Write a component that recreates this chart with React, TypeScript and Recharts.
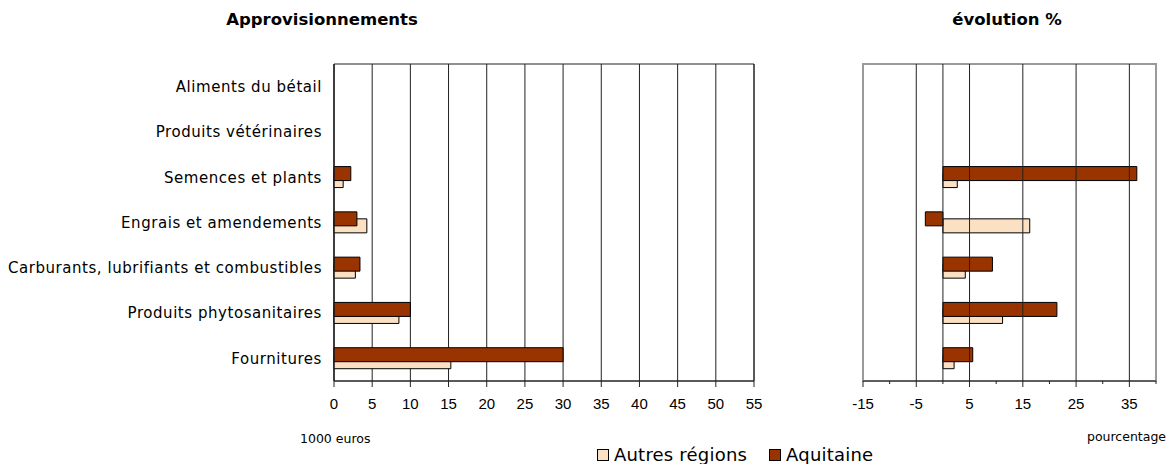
import React from 'react';
import { BarChart, Bar, XAxis, YAxis, CartesianGrid, ReferenceLine, ReferenceArea } from 'recharts';

const categories = [
  'Aliments du bétail',
  'Produits vétérinaires',
  'Semences et plants',
  'Engrais et amendements',
  'Carburants, lubrifiants et combustibles',
  'Produits phytosanitaires',
  'Fournitures',
];
const seriesNames = ['Autres régions', 'Aquitaine'];
const seriesColors = ['#FCE0C4', '#993300'];

const supplyAutres = [null, null, 1.2, 4.3, 2.8, 8.5, 15.3];
const supplyAquitaine = [null, null, 2.2, 3.0, 3.4, 10.0, 30.0];
const evolAutres = [null, null, 2.7, 16.3, 4.2, 11.2, 2.1];
const evolAquitaine = [null, null, 36.4, -3.3, 9.3, 21.4, 5.6];

const supplyTicks = [0, 5, 10, 15, 20, 25, 30, 35, 40, 45, 50, 55];
const evolTicks = [-15, -10, -5, 0, 5, 10, 15, 20, 25, 30, 35, 40];
const evolLabelled = [-15, -5, 5, 15, 25, 35];
const evolGrid = [-5, 0, 5, 15, 25, 35];

const supplyData = categories.map((c, i) => ({ cat: c, autres: supplyAutres[i], aquitaine: supplyAquitaine[i] }));
const evolData = categories.map((c, i) => ({ cat: c, autres: evolAutres[i], aquitaine: evolAquitaine[i] }));

const FONT = '"Liberation Sans", Arial, sans-serif';
const WIDE = '"DejaVu Sans", Verdana, sans-serif';
const GRID = '#222';

const EvolTick = (props: any) => {
  const { x, y, payload } = props;
  const v = payload.value;
  const major = evolLabelled.includes(v);
  const axisY = y - 6 - 11;
  return (
    <g>
      <line x1={x} x2={x} y1={axisY} y2={axisY + (major ? 6 : 3)} stroke={GRID} />
      {major ? (
        <text x={x} y={y} dy="0.71em" textAnchor="middle" fontSize={15} fontFamily={FONT} fill="#000">
          {v}
        </text>
      ) : null}
    </g>
  );
};

export default function App() {
  return (
    <div style={{ position: 'absolute', left: 0, top: 0, width: 1168, height: 464, background: '#fff', fontFamily: WIDE, color: '#000' }}>
      <div style={{ position: 'absolute', left: 0, top: 0 }}>
        <BarChart
          width={775}
          height={464}
          layout="vertical"
          data={supplyData}
          margin={{ top: 64, right: 21, bottom: 43, left: 0 }}
          barSize={14}
          barGap={-21}
          barCategoryGap={0}
        >
          <CartesianGrid vertical horizontal={false} stroke={GRID} strokeDasharray="" />
          <ReferenceArea x1={0} x2={55} fill="none" stroke={GRID} strokeOpacity={1} fillOpacity={0} />
          <XAxis
            type="number"
            domain={[0, 55]}
            ticks={supplyTicks}
            interval={0}
            height={40}
            tickSize={6}
            tickMargin={11}
            axisLine={{ stroke: GRID }}
            tickLine={{ stroke: GRID }}
            tick={{ fontSize: 15, fill: '#000', fontFamily: FONT }}
          />
          <YAxis
            type="category"
            dataKey="cat"
            width={334}
            tickLine={false}
            tickSize={6}
            tickMargin={6}
            axisLine={{ stroke: GRID }}
            tick={{ fontSize: 15, fill: '#000', fontFamily: WIDE, letterSpacing: 0.55 }}
          />
          <Bar dataKey="autres" name={seriesNames[0]} fill={seriesColors[0]} stroke="#000" strokeWidth={1} isAnimationActive={false} />
          <Bar dataKey="aquitaine" name={seriesNames[1]} fill={seriesColors[1]} stroke="#000" strokeWidth={1} isAnimationActive={false} />
        </BarChart>
      </div>

      <div style={{ position: 'absolute', left: 780, top: 0 }}>
        <BarChart
          width={388}
          height={464}
          layout="vertical"
          data={evolData}
          margin={{ top: 64, right: 12, bottom: 43, left: 83 }}
          barSize={14}
          barGap={-21}
          barCategoryGap={0}
        >
          <ReferenceArea x1={-15} x2={40} fill="none" stroke="#9a9a9a" strokeWidth={2} fillOpacity={0} />
          {evolGrid.map((v) => (
            <ReferenceLine key={v} x={v} stroke={GRID} strokeWidth={1} />
          ))}
          <XAxis
            type="number"
            domain={[-15, 40]}
            ticks={evolTicks}
            interval={0}
            height={40}
            tickSize={6}
            tickMargin={11}
            axisLine={{ stroke: GRID }}
            tickLine={false}
            tick={<EvolTick />}
          />
          <YAxis type="category" dataKey="cat" hide width={0} />
          <Bar dataKey="autres" name={seriesNames[0]} fill={seriesColors[0]} stroke="#000" strokeWidth={1} isAnimationActive={false} />
          <Bar dataKey="aquitaine" name={seriesNames[1]} fill={seriesColors[1]} stroke="#000" strokeWidth={1} isAnimationActive={false} />
        </BarChart>
      </div>

      <div style={{ position: 'absolute', left: 172, top: 10, width: 300, textAlign: 'center', fontWeight: 'bold', fontSize: 16.5 }}>
        Approvisionnements
      </div>
      <div style={{ position: 'absolute', left: 857, top: 10, width: 300, textAlign: 'center', fontWeight: 'bold', fontSize: 16.5 }}>
        évolution %
      </div>
      <div style={{ position: 'absolute', left: 300, top: 431, fontSize: 12.5 }}>1000 euros</div>
      <div style={{ position: 'absolute', left: 1087, top: 429, fontSize: 12.5 }}>pourcentage</div>

      <div style={{ position: 'absolute', left: 597, top: 444, display: 'flex', alignItems: 'center', fontSize: 18, letterSpacing: 0.2 }}>
        {seriesNames.map((n, i) => (
          <div key={n} style={{ display: 'flex', alignItems: 'center', marginRight: 22 }}>
            <span style={{ display: 'inline-block', width: 10, height: 10, border: '1px solid #000', background: seriesColors[i], marginRight: 5 }} />
            <span>{n}</span>
          </div>
        ))}
      </div>
    </div>
  );
}
